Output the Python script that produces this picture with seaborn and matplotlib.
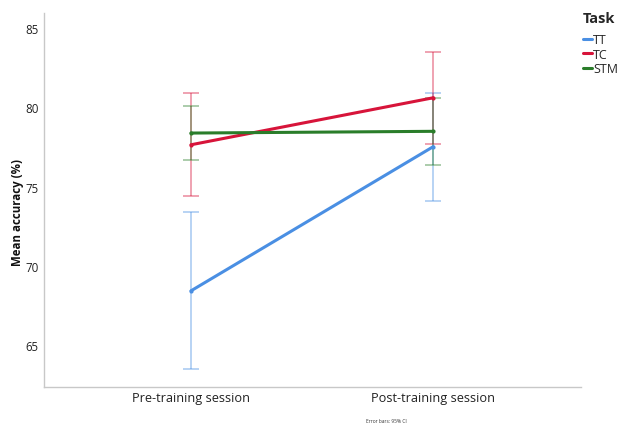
import matplotlib
matplotlib.use("Agg")
import matplotlib.pyplot as plt
import seaborn as sns
import pandas as pd
import numpy as np

# Session labels and task groups
sessions = ["Pre-training session", "Post-training session"]
tasks = ["TT", "TC", "STM"]

# Mean accuracy (%) per task, in session order
tt_mean = [68.41, 77.52]
tc_mean = [77.64, 80.61]
stm_mean = [78.38, 78.49]

# 95% CI bounds per task
tt_lo = [63.46, 74.10]
tt_hi = [73.37, 80.89]
tc_lo = [74.40, 77.67]
tc_hi = [80.89, 83.52]
stm_lo = [76.68, 76.34]
stm_hi = [80.07, 80.61]

colors = {"TT": "#4A8FE3", "TC": "#D7143A", "STM": "#2A7D2A"}

rows = []
for task, m, lo, hi in [("TT", tt_mean, tt_lo, tt_hi),
                        ("TC", tc_mean, tc_lo, tc_hi),
                        ("STM", stm_mean, stm_lo, stm_hi)]:
    for i, s in enumerate(sessions):
        rows.append({"Session": s, "x": i, "Task": task,
                     "mean": m[i], "lo": lo[i], "hi": hi[i]})
df = pd.DataFrame(rows)

sns.set_theme(style="white")
plt.rcParams["font.family"] = ["Open Sans", "DejaVu Sans"]

fig = plt.figure(figsize=(6.19, 4.27), dpi=100)
ax = fig.add_axes([0.0711, 0.0913, 0.8675, 0.876])

# confidence-interval bars behind the lines
for task in tasks:
    sub = df[df["Task"] == task]
    ax.errorbar(sub["x"], sub["mean"],
                yerr=[sub["mean"] - sub["lo"], sub["hi"] - sub["mean"]],
                fmt="none", ecolor=colors[task], alpha=0.5,
                elinewidth=1.1, capsize=5.5, capthick=1.1, zorder=1)

sns.lineplot(data=df, x="x", y="mean", hue="Task", hue_order=tasks,
             palette=colors, linewidth=2.2, marker="o", markersize=3,
             markeredgewidth=0, ax=ax, zorder=3, legend=True)

ax.set_xlim(-0.607, 1.61)
ax.set_ylim(62.33, 85.97)
ax.set_xticks([0, 1])
ax.set_xticklabels(sessions, fontsize=9.2)
ax.set_yticks([65, 70, 75, 80, 85])
ax.set_yticklabels(["65", "70", "75", "80", "85"], fontsize=8.3)
ax.tick_params(axis="both", length=0, pad=4, colors="#222222")
ax.tick_params(axis="x", pad=3)
ax.set_xlabel("")
ax.set_ylabel("Mean accuracy (%)", fontsize=8.3, fontweight="bold",
              color="#111111")
ax.yaxis.set_label_coords(-0.037, 0.47)

for side in ["top", "right"]:
    ax.spines[side].set_visible(False)
for side in ["left", "bottom"]:
    ax.spines[side].set_color("#C8C8C8")
    ax.spines[side].set_linewidth(1.0)

handles, labels = ax.get_legend_handles_labels()
for h in handles:
    h.set_marker("")
leg = ax.legend(handles, labels, title="Task", loc="upper left",
                bbox_to_anchor=(0.9415, 0.972), bbox_transform=fig.transFigure,
                frameon=False, fontsize=9, title_fontsize=10.5,
                handlelength=0.7, handletextpad=0.15, labelspacing=0.12,
                borderaxespad=0, borderpad=0, alignment="left")
leg.get_title().set_fontweight("bold")
leg._legend_box.sep = 6

fig.text(0.625, 0.008, "Error bars: 95% CI", fontsize=3.5, ha="center",
         va="bottom", color="#333333")

fig.savefig("out.png", dpi=100)
